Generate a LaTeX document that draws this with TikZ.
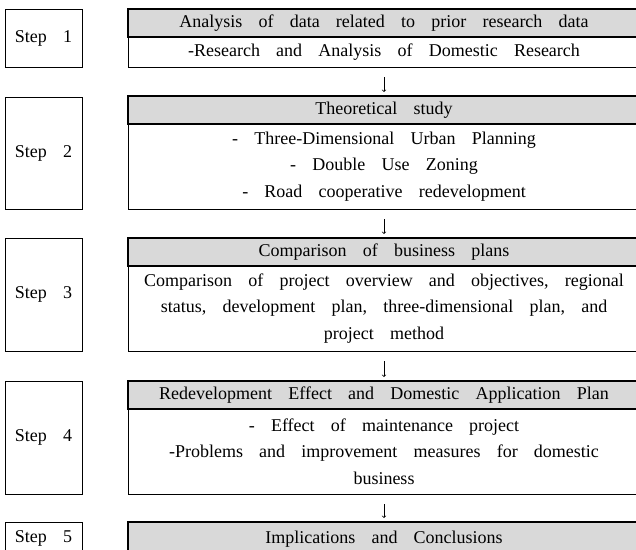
\documentclass[tikz,border=0pt]{standalone}
\usepackage{fontspec}
\setmainfont{Liberation Serif}[WordSpace=3.6]
\usetikzlibrary{positioning}
\definecolor{headgray}{HTML}{D9D9D9}

\begin{document}
\begin{tikzpicture}[
  x=1pt, y=-1pt,
  font=\fontsize{18}{26.5}\selectfont,
  every node/.style={outer sep=0pt},
  head/.style={draw, line width=2pt, fill=headgray, minimum width=512pt, minimum height=28pt, text height=13pt, text depth=4pt, inner sep=0pt},
  body/.style={draw, line width=0.7pt, text width=505pt, inner xsep=3.5pt, inner ysep=0pt, align=flush center, minimum height=85pt},
  stepbox/.style={draw, line width=0.7pt, minimum width=77pt, inner sep=0pt},
  arr/.style={->, line width=0.7pt, shorten <=10pt, shorten >=4pt}
]
\useasboundingbox (0,0) rectangle (636,549);
\clip (0,0) rectangle (636,549);

% right column: heading + contents per step
\node[head, anchor=north] (h1) at (384,9) {Analysis of data related to prior research data};
\node[body, below=0pt of h1, minimum height=30pt] (b1) {-Research and Analysis of Domestic Research};

\node[head, below=29pt of b1] (h2) {Theoretical study};
\node[body, below=0pt of h2] (b2) {- Three-Dimensional Urban Planning\\ - Double Use Zoning\\ - Road cooperative redevelopment};

\node[head, below=29pt of b2] (h3) {Comparison of business plans};
\node[body, below=0pt of h3] (b3) {Comparison of project overview and objectives, regional\\ status, development plan, three-dimensional plan, and\\ project method};

\node[head, below=30pt of b3] (h4) {Redevelopment Effect and Domestic Application Plan};
\node[body, below=0pt of h4] (b4) {- Effect of maintenance project\\ -Problems and improvement measures for domestic\\ business};

\node[head, below=28pt of b4, minimum height=34pt] (h5) {Implications and Conclusions};

% left column: step labels
\node[stepbox, minimum height=58pt] (s1) at (43.5,38) {Step 1};
\node[stepbox, minimum height=112pt] (s2) at (43.5,153) {Step 2};
\node[stepbox, minimum height=113pt] (s3) at (43.5,294.5) {Step 3};
\node[stepbox, minimum height=113pt] (s4) at (43.5,437.5) {Step 4};
\node[stepbox, minimum height=32pt] (s5) at (43.5,538) {Step 5};

\draw[arr] (b1) -- (h2);
\draw[arr] (b2) -- (h3);
\draw[arr] (b3) -- (h4);
\draw[arr] (b4) -- (h5);
\end{tikzpicture}
\end{document}
